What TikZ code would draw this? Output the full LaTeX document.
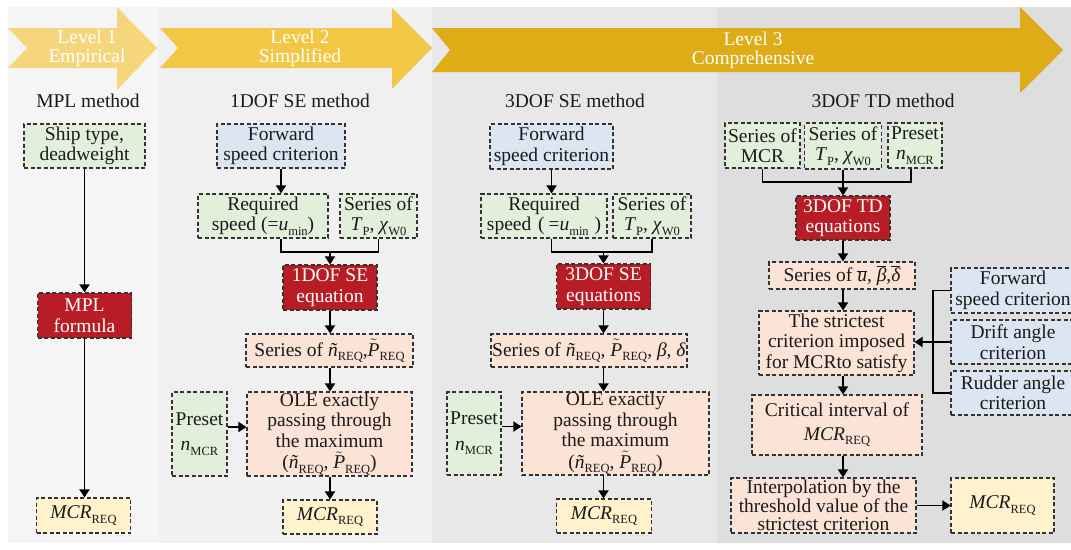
\documentclass[tikz,border=0pt]{standalone}
\usepackage{fontspec}
\setmainfont{Liberation Serif}
\usetikzlibrary{arrows.meta,calc}
\definecolor{bgA}{HTML}{F5F5F5}
\definecolor{bgB}{HTML}{F0F0F0}
\definecolor{bgC}{HTML}{E8E8E8}
\definecolor{bgD}{HTML}{DEDEDE}
\definecolor{arA}{HTML}{F6D67C}
\definecolor{arB}{HTML}{F2C744}
\definecolor{arC}{HTML}{DDAC16}
\definecolor{fgreen}{HTML}{E2EFDA}
\definecolor{fblue}{HTML}{DCE6F2}
\definecolor{fpeach}{HTML}{FBE3D6}
\definecolor{fyellow}{HTML}{FFF2CC}
\definecolor{fred}{HTML}{B81C24}
\definecolor{dline}{HTML}{333333}
\definecolor{txt}{HTML}{1A1A1A}
\newcommand{\sbs}[1]{\raisebox{-0.22em}{\fontsize{12.5}{12.5}\selectfont #1}}
\newcommand{\tld}[1]{$\tilde{\hbox{\itshape #1}}$}
\newcommand{\ovl}[1]{$\overline{\hbox{\itshape #1}}$}
\newcommand{\fs}{\fontsize{19.5}{20.5}\selectfont}
\tikzset{
  bx/.style={draw=dline, dash pattern=on 4pt off 2.5pt, line width=1.1pt, inner sep=0pt, align=center, font=\fs, text=txt},
  gbox/.style={bx, fill=fgreen},
  bbox/.style={bx, fill=fblue},
  pbox/.style={bx, fill=fpeach},
  ybox/.style={bx, fill=fyellow},
  rbox/.style={bx, fill=fred, text=white},
  ln/.style={line width=1.8pt, black},
  arr/.style={ln, -{Triangle[length=8pt,width=10pt]}},
  lvl/.style={align=center, font=\fs, text=white, inner sep=0pt},
  ttl/.style={font=\fs, text=txt, inner sep=0pt}
}
\begin{document}
\begin{tikzpicture}[x=1pt,y=-1pt]
\useasboundingbox (0,0) rectangle (1071,549);
\clip (0,0) rectangle (1071,549);
\fill[white] (0,0) rectangle (1071,549);
% panels
\fill[bgA] (8,7) rectangle (159,543);
\fill[bgB] (159,7) rectangle (432,543);
\fill[bgC] (432,7) rectangle (717,543);
\fill[bgD] (717,7) rectangle (1071,543);
% level arrows
\fill[arA] (8,28) -- (117,28) -- (117,7) -- (157,48) -- (117,90) -- (117,68) -- (8,68) -- (27,48) -- cycle;
\fill[arB] (160,28) -- (392,28) -- (392,8) -- (432,48) -- (392,89) -- (392,68) -- (160,68) -- (178,48) -- cycle;
\fill[arC] (432,28) -- (1020,28) -- (1020,7) -- (1063,50) -- (1020,93) -- (1020,72) -- (432,72) -- (450,50) -- cycle;
\node[lvl] (l1) at (87,48) {Level 1\\[-1.5pt]Empirical};
\node[lvl] (l2) at (300,48) {Level 2\\[-1.5pt]Simplified};
\node[lvl] (l3) at (753,50) {Level 3\\[-1.5pt]Comprehensive};
% titles
\node[ttl] (t1) at (88,101) {MPL method};
\node[ttl] (t2) at (300,101) {1DOF SE method};
\node[ttl] (t3) at (575,101) {3DOF SE method};
\node[ttl] (t4) at (883,101) {3DOF TD method};
% column 1
\node[gbox, minimum width=121pt, minimum height=44pt] (ship) at (84.5,146) {Ship type,\\deadweight};
\node[rbox, minimum width=94pt, minimum height=45pt] (mpl) at (84.5,315.5) {MPL\\formula};
\node[ybox, minimum width=94pt, minimum height=35pt] (mcr1) at (83.5,515.5) {\textit{MCR}\sbs{REQ}};
\draw[arr] (ship.south) -- (ship.south |- mpl.north);
\draw[arr] (mpl.south) -- (mpl.south |- mcr1.north);
% column 2
\node[bbox, minimum width=128pt, minimum height=44pt] (fwd2) at (281,146) {Forward\\speed criterion};
\node[gbox, minimum width=130pt, minimum height=44pt] (req2) at (263,216) {Required\\speed (=\textit{u}\sbs{min})};
\node[gbox, minimum width=77pt, minimum height=44pt] (tp2) at (378.5,216) {Series of\\\textit{T}\sbs{P}, \textit{χ}\sbs{W0}};
\node[rbox, minimum width=94pt, minimum height=45pt] (eq2) at (330,287.5) {1DOF SE\\equation};
\node[pbox, minimum width=167pt, minimum height=33pt] (ser2) at (329.5,350.5) {Series of \textit{ñ}\sbs{REQ},\tld{P}\sbs{REQ}};
\node[pbox, minimum width=165pt, minimum height=84pt] (ole2) at (329.5,434) {OLE exactly\\passing through\\the maximum\\[1pt](\textit{ñ}\sbs{REQ}, \tld{P}\sbs{REQ})};
\node[gbox, minimum width=55pt, minimum height=84pt] (pre2) at (199.5,434) {Preset\\[5pt]\textit{n}\sbs{MCR}};
\node[ybox, minimum width=94pt, minimum height=34pt] (mcr2) at (330,517) {\textit{MCR}\sbs{REQ}};
\coordinate (m2) at (330,252);
\draw[arr] (fwd2.south) -- (fwd2.south |- req2.north);
\draw[ln] (fwd2.south |- req2.south) -- (fwd2.south |- m2) -- (tp2.south |- m2) -- (tp2.south);
\draw[arr] (m2) -- (eq2.north);
\draw[arr] (eq2.south) -- (eq2.south |- ser2.north);
\draw[arr] (eq2.south |- ser2.south) -- (eq2.south |- ole2.north);
\draw[arr] ([yshift=7pt]pre2.east) -- ([yshift=7pt]pre2.east -| ole2.west);
\draw[arr] (eq2.south |- ole2.south) -- (eq2.south |- mcr2.north);
% column 3
\node[bbox, minimum width=123pt, minimum height=45pt] (fwd3) at (551.5,146.5) {Forward\\speed criterion};
\node[gbox, minimum width=126pt, minimum height=44pt] (req3) at (544,216) {Required\\speed\hspace{0.35em}(\hspace{0.2em}=\textit{u}\sbs{min}\hspace{0.3em})};
\node[gbox, minimum width=78pt, minimum height=44pt] (tp3) at (652,216) {Series of\\\textit{T}\sbs{P}, \textit{χ}\sbs{W0}};
\node[rbox, minimum width=94pt, minimum height=45pt] (eq3) at (603.5,286.5) {3DOF SE\\equations};
\node[pbox, minimum width=196pt, minimum height=33pt] (ser3) at (589,350.5) {Series of \textit{ñ}\sbs{REQ}, \tld{P}\sbs{REQ}, \textit{β}, \textit{δ}};
\node[pbox, minimum width=187pt, minimum height=83pt] (ole3) at (615.5,433.5) {OLE exactly\\passing through\\the maximum\\[1pt](\textit{ñ}\sbs{REQ}, \tld{P}\sbs{REQ})};
\node[gbox, minimum width=54pt, minimum height=83pt] (pre3) at (474,433.5) {Preset\\[5pt]\textit{n}\sbs{MCR}};
\node[ybox, minimum width=95pt, minimum height=34pt] (mcr3) at (604,516) {\textit{MCR}\sbs{REQ}};
\coordinate (m3) at (603.5,252);
\draw[arr] (fwd3.south) -- (fwd3.south |- req3.north);
\draw[ln] (fwd3.south |- req3.south) -- (fwd3.south |- m3) -- (tp3.south |- m3) -- (tp3.south);
\draw[arr] (m3) -- (eq3.north);
\draw[arr] (eq3.south) -- (eq3.south |- ser3.north);
\draw[arr] (eq3.south |- ser3.south) -- (eq3.south |- ole3.north);
\draw[arr] ([yshift=7pt]pre3.east) -- ([yshift=7pt]pre3.east -| ole3.west);
\draw[arr] (eq3.south |- ole3.south) -- (eq3.south |- mcr3.north);
% column 4
\node[gbox, minimum width=75pt, minimum height=45pt] (smcr) at (762.5,145.5) {Series of\\MCR};
\node[gbox, minimum width=77pt, minimum height=46pt] (tp4) at (843,146) {Series of\\\textit{T}\sbs{P}, \textit{χ}\sbs{W0}};
\node[gbox, minimum width=54pt, minimum height=45pt] (pre4) at (915,145.5) {Preset\\\textit{n}\sbs{MCR}};
\node[rbox, minimum width=94pt, minimum height=44pt] (td) at (843,218) {3DOF TD\\equations};
\node[pbox, minimum width=146pt, minimum height=27pt] (ser4) at (842,275.5) {Series of \ovl{u}, \ovl{β},\ovl{δ}};
\node[pbox, minimum width=155pt, minimum height=64pt] (str) at (836.5,343) {The strictest\\criterion imposed\\for MCRto satisfy};
\node[bbox, minimum width=124pt, minimum height=45pt] (fwd4) at (1013,290.5) {Forward\\speed criterion};
\node[bbox, minimum width=124pt, minimum height=44pt] (drift) at (1013,342) {Drift angle\\criterion};
\node[bbox, minimum width=124pt, minimum height=44pt] (rud) at (1013,393) {Rudder angle\\criterion};
\node[pbox, minimum width=170pt, minimum height=60pt] (crit) at (837,425) {Critical interval of\\[3pt]\textit{MCR}\sbs{REQ}};
\node[pbox, minimum width=185pt, minimum height=55pt, font=\fontsize{19.5}{17.5}\selectfont] (interp) at (823.5,505.5) {Interpolation by the\\threshold value of the\\strictest criterion};
\node[ybox, minimum width=103pt, minimum height=55pt] (mcr4) at (1002.5,505.5) {\textit{MCR}\sbs{REQ}};
\coordinate (m4) at (843,182);
\coordinate (m4r) at (911,182);
\coordinate (vx) at (933,0);
\draw[ln] (smcr.south) -- (smcr.south |- m4) -- (m4r) -- (m4r |- pre4.south);
\draw[arr] (tp4.south) -- (tp4.south |- td.north);
\draw[arr] (td.south) -- (td.south |- ser4.north);
\draw[arr] (td.south |- ser4.south) -- (td.south |- str.north);
\draw[ln] (fwd4.west) -- (fwd4.west -| vx) -- (rud.west -| vx) -- (rud.west);
\draw[arr] (drift.west) -- (drift.west -| str.east);
\draw[arr] (td.south |- str.south) -- (td.south |- crit.north);
\draw[arr] (td.south |- crit.south) -- (td.south |- interp.north);
\draw[arr] (interp.east) -- (interp.east -| mcr4.west);
\end{tikzpicture}
\end{document}
